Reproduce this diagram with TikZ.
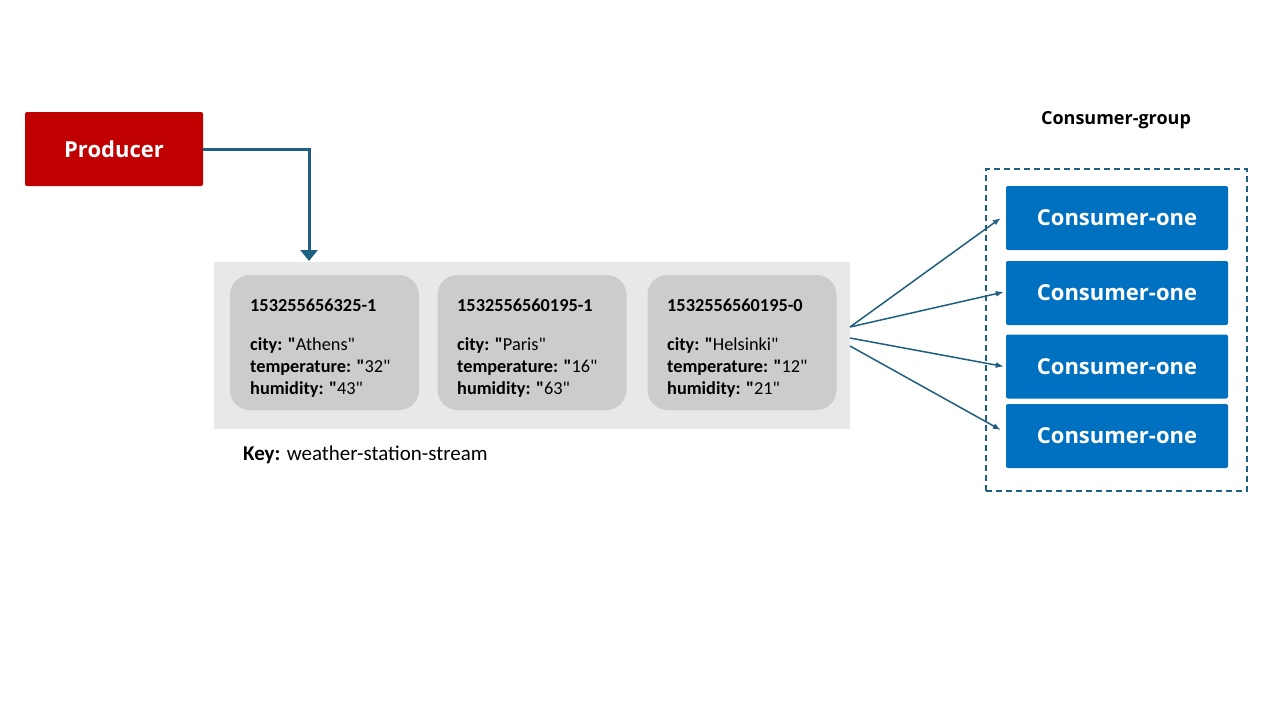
\documentclass[tikz,border=0pt]{standalone}
\usepackage{fontspec}
\setmainfont{Carlito}[Ligatures=TeXOff]
\newfontfamily\osans{Open Sans}
\usetikzlibrary{arrows.meta}
\newcommand{\qt}{"}
\newcommand{\bq}{\textbf{"}}
\definecolor{flow}{HTML}{1F5F7F}
\definecolor{prodred}{HTML}{C00000}
\definecolor{consblue}{HTML}{0070C0}
\definecolor{streambg}{HTML}{E8E8E8}
\definecolor{cardbg}{HTML}{CCCCCC}
\tikzset{
  prodbox/.style={fill=prodred, rounded corners=2pt, minimum width=178pt, minimum height=74pt, inner sep=0pt, text=white, font=\osans\bfseries\fontsize{22}{26}\selectfont},
  consbox/.style={fill=consblue, rounded corners=2pt, minimum width=222pt, minimum height=64pt, inner sep=0pt, text=white, font=\osans\bfseries\fontsize{22}{26}\selectfont},
  cardbox/.style={fill=cardbg, rounded corners=20pt, minimum width=189pt, minimum height=135pt, inner sep=0pt},
  cardtext/.style={anchor=west, inner sep=0pt, text height=13pt, text depth=4pt, font=\fontsize{18.3}{22}\selectfont},
  fanarrow/.style={draw=flow, line width=1.5pt, -{Latex[length=8pt,width=6pt]}},
}
\begin{document}
\begin{tikzpicture}[x=1pt,y=-1pt]
\useasboundingbox (0,0) rectangle (1280,720);
% producer
\node[prodbox] (prod) at (114,149) {Producer};
% stream
\node[fill=streambg, minimum width=636pt, minimum height=167pt, inner sep=0pt] (stream) at (532,345.5) {};
\coordinate (drop) at (309,261);
\draw[flow, line width=3pt, -{Triangle[length=11pt,width=17pt]}] (prod.east) -- (309,149) -- (drop);
% cards
\node[cardbox] (c1) at (324.5,342.5) {};
\node[cardbox] (c2) at (532,342.5) {};
\node[cardbox] (c3) at (742,342.5) {};
\node[cardtext] (c1id) at (250,307) {\textbf{153255656325-1}};
\node[cardtext] (c1a) at (250,346) {\textbf{city:} \bq Athens\qt};
\node[cardtext] (c1b) at (250,368) {\textbf{temperature:} \bq 32\qt};
\node[cardtext] (c1c) at (250,390) {\textbf{humidity:} \bq 43\qt};
\node[cardtext] (c2id) at (457,307) {\textbf{1532556560195-1}};
\node[cardtext] (c2a) at (457,346) {\textbf{city:} \bq Paris\qt};
\node[cardtext] (c2b) at (457,368) {\textbf{temperature:} \bq 16\qt};
\node[cardtext] (c2c) at (457,390) {\textbf{humidity:} \bq 63\qt};
\node[cardtext] (c3id) at (667,307) {\textbf{1532556560195-0}};
\node[cardtext] (c3a) at (667,346) {\textbf{city:} \bq Helsinki\qt};
\node[cardtext] (c3b) at (667,368) {\textbf{temperature:} \bq 12\qt};
\node[cardtext] (c3c) at (667,390) {\textbf{humidity:} \bq 21\qt};
% key
\node[anchor=west, inner sep=0pt, font=\fontsize{21}{25}\selectfont] (key) at (243,455) {\textbf{Key:} weather-station-stream};
% consumer group
\node[font=\osans\bfseries\fontsize{18}{21}\selectfont, inner sep=0pt] (cglabel) at (1116,120) {Consumer-group};
\node[draw=flow, line width=1.5pt, dash pattern=on 6pt off 4pt, minimum width=261pt, minimum height=322pt, inner sep=0pt] (group) at (1116.5,330) {};
\node[consbox] (k1) at (1117,218) {Consumer-one};
\node[consbox] (k2) at (1117,293) {Consumer-one};
\node[consbox] (k3) at (1117,366.5) {Consumer-one};
\node[consbox] (k4) at (1117,436) {Consumer-one};
% fan arrows
\coordinate (s1) at (850,327);
\coordinate (s2) at (850,338);
\coordinate (s3) at (850,346);
\draw[fanarrow] (s1) -- ([xshift=-5pt]k1.west);
\draw[fanarrow] (s1) -- ([xshift=-2pt,yshift=1pt]k2.west);
\draw[fanarrow] (s2) -- ([xshift=-2pt]k3.west);
\draw[fanarrow] (s3) -- ([xshift=-5pt,yshift=6pt]k4.west);
\end{tikzpicture}
\end{document}
